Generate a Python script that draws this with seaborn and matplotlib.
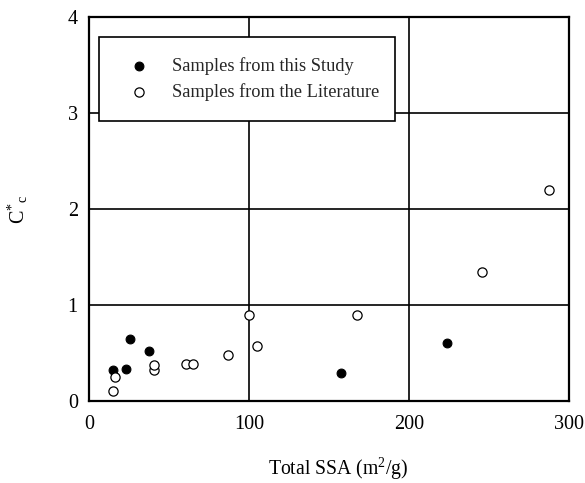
import matplotlib
matplotlib.use("Agg")
import matplotlib.pyplot as plt
import seaborn as sns
import pandas as pd

# Samples from this study
study_ssa = [14.8, 22.9, 25.8, 37.7, 157.7, 223.8]
study_cc = [0.32, 0.33, 0.65, 0.52, 0.29, 0.60]

# Samples from the literature
lit_ssa = [14.8, 16.5, 40.4, 40.6, 60.8, 64.8, 86.9, 99.8, 105.0, 167.7, 245.6, 287.7]
lit_cc = [0.10, 0.25, 0.32, 0.37, 0.39, 0.39, 0.48, 0.90, 0.57, 0.90, 1.34, 2.20]

labels = ["Samples from this Study", "Samples from the Literature"]
x_ticks = [0, 100, 200, 300]
y_ticks = [0, 1, 2, 3, 4]

sns.set_theme(style="white")
plt.rcParams["font.family"] = ["Liberation Serif", "DejaVu Serif"]
plt.rcParams["mathtext.fontset"] = "custom"
plt.rcParams["mathtext.rm"] = "Liberation Serif"
plt.rcParams["mathtext.it"] = "Liberation Serif:italic"

df_study = pd.DataFrame({"ssa": study_ssa, "cc": study_cc})
df_lit = pd.DataFrame({"ssa": lit_ssa, "cc": lit_cc})

fig = plt.figure(figsize=(5.85, 4.83), dpi=100)
ax = fig.add_axes([0.152, 0.1698, 0.9727 - 0.152, 0.9648 - 0.1698])

sns.scatterplot(data=df_study, x="ssa", y="cc", ax=ax, s=40, marker="o",
                color="black", edgecolor="black", linewidth=0.8,
                label=labels[0], zorder=3)
sns.scatterplot(data=df_lit, x="ssa", y="cc", ax=ax, s=44, marker="o",
                facecolor="white", edgecolor="black", linewidth=0.9,
                label=labels[1], zorder=3)

ax.set_xlim(0, 300)
ax.set_ylim(0, 4)
ax.set_xticks(x_ticks)
ax.set_yticks(y_ticks)
ax.tick_params(axis="both", length=0, labelsize=14.5, colors="black")
ax.tick_params(axis="x", pad=10)
ax.tick_params(axis="y", pad=8)

ax.grid(True, color="black", linewidth=1.2)
ax.set_axisbelow(True)
for sp in ax.spines.values():
    sp.set_visible(True)
    sp.set_color("black")
    sp.set_linewidth(1.6)

ax.set_xlabel("Total SSA (m$^{\\mathregular{2}}$/g)", fontsize=14.2, color="black")
ax.xaxis.set_label_coords(0.52, -0.142)
ax.set_ylabel("C$^{\\mathregular{*}}$$_{\\mathregular{c}}$", fontsize=14.5, color="black")
ax.yaxis.set_label_coords(-0.122, 0.5)

leg = ax.legend(loc="upper left",
                bbox_to_anchor=(0.0208, 0.7266, 0.6375 - 0.0208, 0.948 - 0.7266),
                mode="expand", borderaxespad=0, fontsize=13.2, frameon=True,
                fancybox=False, shadow=False, borderpad=1.1, labelspacing=0.42,
                handlelength=2.2, handletextpad=0.7)
leg.get_frame().set_edgecolor("black")
leg.get_frame().set_linewidth(1.2)
leg.get_frame().set_facecolor("white")
leg.get_frame().set_alpha(1)
leg.set_zorder(5)

fig.savefig("out.png", dpi=100)
